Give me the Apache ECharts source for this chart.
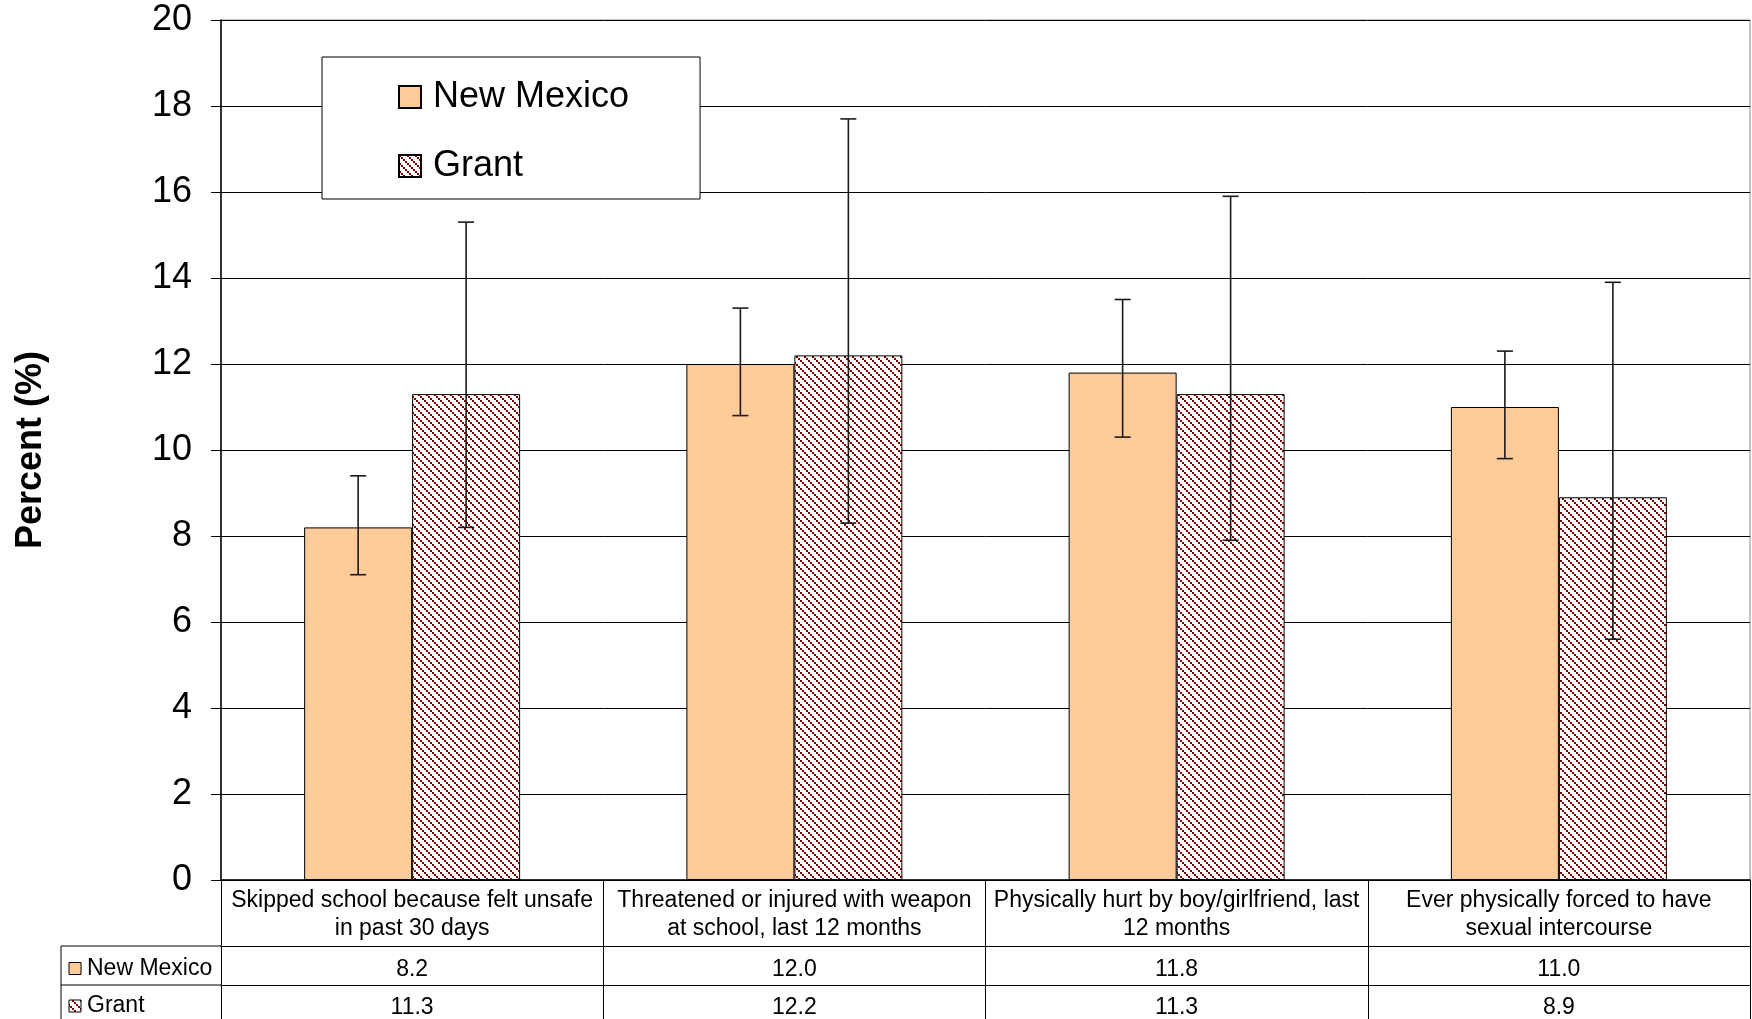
<!DOCTYPE html>
<html>
<head>
<meta charset="utf-8">
<script src="https://cdn.jsdelivr.net/npm/echarts@6/dist/echarts.min.js"></script>
<style>
html,body{margin:0;padding:0;background:#fff;}
#c{width:1752px;height:1019px;}
</style>
</head>
<body>
<div id="c"></div>
<script>
const categories = [
  'Skipped school because felt unsafe\nin past 30 days',
  'Threatened or injured with weapon\nat school, last 12 months',
  'Physically hurt by boy/girlfriend, last\n12 months',
  'Ever physically forced to have\nsexual intercourse'
];
const seriesNames = ['New Mexico', 'Grant'];
const nmValues = [8.2, 12.0, 11.8, 11.0];
const grantValues = [11.3, 12.2, 11.3, 8.9];
const nmLow = [7.1, 10.8, 10.3, 9.8];
const nmHigh = [9.4, 13.3, 13.5, 12.3];
const grantLow = [8.2, 8.3, 7.9, 5.6];
const grantHigh = [15.3, 17.7, 15.9, 13.9];
const yMin = 0, yMax = 20, yStep = 2;

const FONT = 'Liberation Sans, Arial, sans-serif';
const NM_COLOR = '#FFCC99';
const GRANT_COLOR = '#800000';
const CAT_GAP = 0.435;

function makeHatch() {
  const c = document.createElement('canvas');
  c.width = 8; c.height = 8;
  const g = c.getContext('2d');
  g.fillStyle = '#fff'; g.fillRect(0, 0, 8, 8);
  g.fillStyle = GRANT_COLOR;
  for (let k = 0; k < 8; k += 2) g.fillRect(k, k, 2, 2);
  return c;
}
const hatch = { image: makeHatch(), repeat: 'repeat' };

function errData(lo, hi) { return lo.map((l, i) => [i, l, hi[i]]); }
function errRender(sign) {
  return function (params, api) {
    const i = api.value(0);
    const lo = api.coord([i, api.value(1)]);
    const hi = api.coord([i, api.value(2)]);
    const band = api.size([1, 0])[0];
    const barW = band * (1 - CAT_GAP) / 2;
    const x = lo[0] + sign * barW / 2;
    const cap = 8;
    const st = { stroke: '#1a1a1a', lineWidth: 1.6 };
    return {
      type: 'group',
      children: [
        { type: 'line', shape: { x1: x, y1: lo[1], x2: x, y2: hi[1] }, style: st },
        { type: 'line', shape: { x1: x - cap, y1: lo[1], x2: x + cap, y2: lo[1] }, style: st },
        { type: 'line', shape: { x1: x - cap, y1: hi[1], x2: x + cap, y2: hi[1] }, style: st }
      ]
    };
  };
}

const GRID = { left: 221, right: 2, top: 20, bottom: 139 };
const ROW0 = 66, ROW1 = 39;

const chart = echarts.init(document.getElementById('c'), null, { renderer: 'canvas' });
const option = {
  animation: false,
  backgroundColor: '#fff',
  textStyle: { fontFamily: FONT, color: '#000' },
  grid: Object.assign({ show: true, borderColor: '#888', borderWidth: 1, containLabel: false }, GRID),
  legend: {
    orient: 'vertical',
    left: 322, top: 57,
    padding: [22, 71, 15, 76],
    itemGap: 33,
    itemWidth: 22, itemHeight: 22,
    icon: 'rect',
    backgroundColor: '#fff',
    borderColor: '#000', borderWidth: 1,
    textStyle: { fontSize: 36, fontFamily: FONT, color: '#000', lineHeight: 22, padding: [0, 0, 0, 7] },
    data: seriesNames
  },
  xAxis: [
    {
      type: 'category', data: categories, position: 'bottom',
      axisLine: { show: true, lineStyle: { color: '#000', width: 1.5 } },
      axisTick: { show: true, length: 139, interval: 0, lineStyle: { color: '#000', width: 1 } },
      axisLabel: { interval: 0, fontSize: 23, lineHeight: 28, margin: 7, color: '#000', fontFamily: FONT }
    },
    {
      type: 'category', data: categories, position: 'bottom', offset: ROW0,
      axisLine: { show: true, lineStyle: { color: '#000', width: 1 } },
      axisTick: { show: false },
      axisLabel: { interval: 0, fontSize: 23, margin: 12, color: '#000', fontFamily: FONT,
        formatter: (v, i) => nmValues[i].toFixed(1) }
    },
    {
      type: 'category', data: categories, position: 'bottom', offset: ROW0 + ROW1,
      axisLine: { show: true, lineStyle: { color: '#000', width: 1 } },
      axisTick: { show: false },
      axisLabel: { interval: 0, fontSize: 23, margin: 11, color: '#000', fontFamily: FONT,
        formatter: (v, i) => grantValues[i].toFixed(1) }
    }
  ],
  yAxis: {
    type: 'value', min: yMin, max: yMax, interval: yStep,
    name: 'Percent (%)', nameLocation: 'middle', nameGap: 172,
    nameTextStyle: { fontSize: 36, fontWeight: 'bold', color: '#000', fontFamily: FONT },
    axisLine: { show: true, lineStyle: { color: '#000', width: 1.5 } },
    axisTick: { show: true, length: 10, lineStyle: { color: '#000' } },
    axisLabel: { fontSize: 36, margin: 29, color: '#000', fontFamily: FONT },
    splitLine: { show: true, lineStyle: { color: '#000', width: 1 } }
  },
  series: [
    {
      name: seriesNames[0], type: 'bar', data: nmValues,
      barGap: '0%', barCategoryGap: (CAT_GAP * 100) + '%',
      itemStyle: { color: NM_COLOR, borderColor: '#000', borderWidth: 1 }
    },
    {
      name: seriesNames[1], type: 'bar', data: grantValues,
      barGap: '0%', barCategoryGap: (CAT_GAP * 100) + '%',
      itemStyle: { color: hatch, borderColor: '#000', borderWidth: 1 }
    },
    { type: 'custom', name: 'nmErr', data: errData(nmLow, nmHigh), renderItem: errRender(-1), z: 5, silent: true },
    { type: 'custom', name: 'grantErr', data: errData(grantLow, grantHigh), renderItem: errRender(1), z: 5, silent: true }
  ]
};
chart.setOption(option);

// row header column of data table
const H = 1019;
const axisY = H - GRID.bottom;
const r1 = axisY + ROW0, r2 = r1 + ROW1;
const colL = 61, colR = GRID.left;
const lineSt = { stroke: '#000', lineWidth: 1 };
const c1 = (r1 + r2) / 2 + 3, c2 = (r2 + H) / 2 + 4;
chart.setOption({
  graphic: [
    { type: 'line', shape: { x1: colL, y1: r1, x2: colR, y2: r1 }, style: lineSt },
    { type: 'line', shape: { x1: colL, y1: r2, x2: colR, y2: r2 }, style: lineSt },
    { type: 'line', shape: { x1: colL, y1: r1, x2: colL, y2: H }, style: lineSt },
    { type: 'rect', shape: { x: 69, y: c1 - 6, width: 12, height: 12 }, style: { fill: NM_COLOR, stroke: '#000', lineWidth: 1 } },
    { type: 'text', x: 87, y: c1, style: { text: seriesNames[0], fontSize: 23, fontFamily: FONT, fill: '#000', verticalAlign: 'middle' } },
    { type: 'rect', shape: { x: 69, y: c2 - 6, width: 12, height: 12 }, style: { fill: hatch, stroke: '#000', lineWidth: 1 } },
    { type: 'text', x: 87, y: c2, style: { text: seriesNames[1], fontSize: 23, fontFamily: FONT, fill: '#000', verticalAlign: 'middle' } }
  ]
});
</script>
</body>
</html>
